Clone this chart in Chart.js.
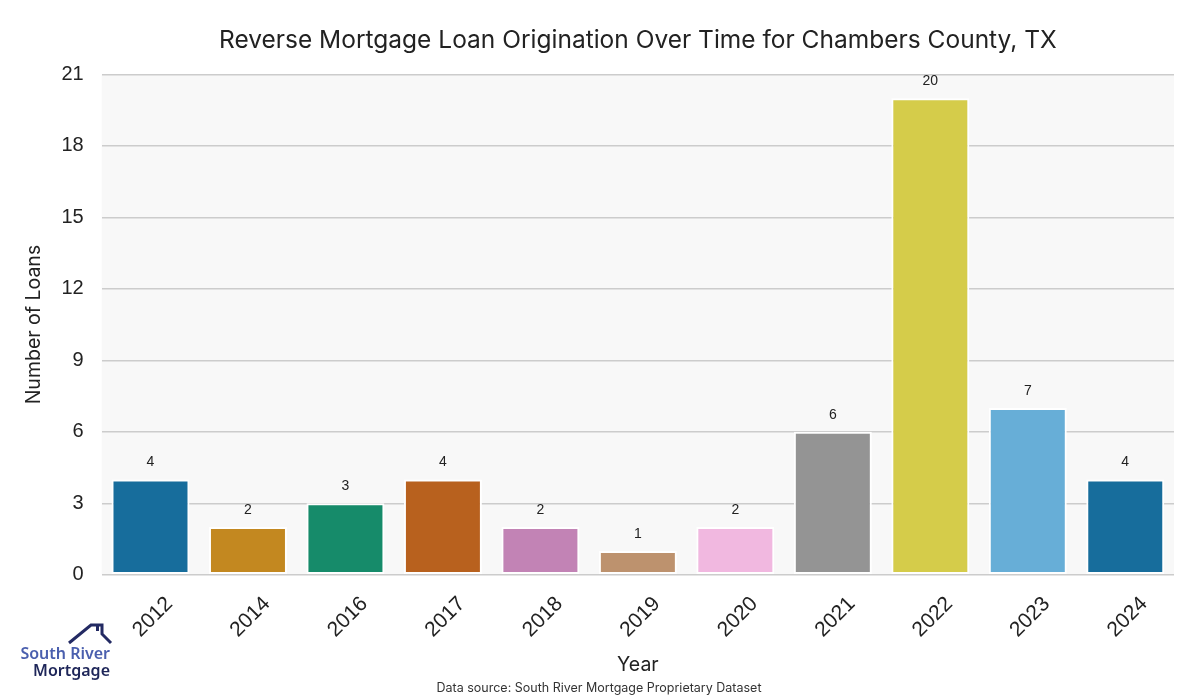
<!DOCTYPE html>
<html>
<head>
<meta charset="utf-8">
<script src="https://cdn.jsdelivr.net/npm/chart.js@4.4.1/dist/chart.umd.min.js"></script>
<style>
  html, body { margin: 0; padding: 0; background: #fff; }
  #wrap { width: 1200px; height: 700px; }
</style>
</head>
<body>
<div id="wrap"><canvas id="loanChart"></canvas></div>
<script>
// data
const years = ['2012', '2014', '2016', '2017', '2018', '2019', '2020', '2021', '2022', '2023', '2024'];
const loans = [4, 2, 3, 4, 2, 1, 2, 6, 20, 7, 4];
const barColors = ['#176d9c', '#c38820', '#168b6a', '#b8611e', '#c283b5', '#bd926e', '#f1b8e0', '#949494', '#d5cc4a', '#67aed7', '#176d9c'];
const yTicks = [0, 3, 6, 9, 12, 15, 18, 21];

const plotBg = {
    id: 'plotBg',
    beforeDraw(chart) {
        const a = chart.chartArea;
        const ctx = chart.ctx;
        ctx.save();
        ctx.fillStyle = '#f8f8f8';
        ctx.fillRect(a.left, a.top, a.right - a.left, a.bottom - a.top);
        ctx.restore();
    }
};

// numbers on top of the bars
const barLabels = {
    id: 'barLabels',
    afterDatasetsDraw(chart) {
        const ctx = chart.ctx;
        const meta = chart.getDatasetMeta(0);
        ctx.save();
        ctx.font = '14px "Liberation Sans", Arial, sans-serif';
        ctx.fillStyle = '#222';
        ctx.textAlign = 'center';
        ctx.textBaseline = 'bottom';
        meta.data.forEach((bar, i) => {
            ctx.fillText(loans[i], bar.x, bar.y - 10);
        });
        ctx.restore();
    }
};

// small logo in the bottom left corner
const logo = {
    id: 'logo',
    afterDraw(chart) {
        const ctx = chart.ctx;
        ctx.save();
        ctx.strokeStyle = '#232a63';
        ctx.lineWidth = 3;
        ctx.beginPath();
        ctx.moveTo(69, 643);
        ctx.lineTo(91, 625);
        ctx.lineTo(102, 625);
        ctx.lineTo(102, 634);
        ctx.lineTo(111, 643);
        ctx.moveTo(97.5, 625);
        ctx.lineTo(97.5, 631);
        ctx.stroke();
        ctx.font = '600 16px "Noto Sans", sans-serif';
        ctx.textAlign = 'right';
        ctx.textBaseline = 'alphabetic';
        ctx.fillStyle = '#4a5fae';
        ctx.fillText('South River', 110, 659);
        ctx.fillStyle = '#1e2659';
        ctx.fillText('Mortgage', 110, 676);
        ctx.restore();
    }
};

const ctx = document.getElementById('loanChart');
new Chart(ctx, {
    type: 'bar',
    data: {
        labels: years,
        datasets: [{
            data: loans,
            backgroundColor: barColors,
            borderColor: '#ffffff',
            borderWidth: 2,
            borderSkipped: false,
            barPercentage: 0.8,
            categoryPercentage: 1.0
        }]
    },
    options: {
        responsive: true,
        maintainAspectRatio: false,
        animation: false,
        layout: { padding: { left: 24, right: 26, top: 20, bottom: 4 } },
        plugins: {
            legend: { display: false },
            tooltip: { enabled: false },
            title: {
                display: true,
                text: 'Reverse Mortgage Loan Origination Over Time for Chambers County, TX',
                fullSize: false,
                color: '#222',
                font: { family: 'Inter, sans-serif', size: 24.5, weight: 'normal' },
                padding: { top: 6, bottom: 19 }
            },
            subtitle: {
                display: true,
                position: 'bottom',
                text: 'Data source: South River Mortgage Proprietary Dataset',
                color: '#333',
                font: { family: 'Inter, sans-serif', size: 12.5 },
                padding: { top: 4, bottom: 0 }
            }
        },
        scales: {
            x: {
                grid: { display: false },
                border: { display: false },
                ticks: {
                    color: '#222',
                    font: { family: '"Liberation Sans", Arial, sans-serif', size: 21 },
                    minRotation: 45,
                    maxRotation: 45,
                    labelOffset: 19,
                    padding: 9
                },
                title: {
                    display: true,
                    text: 'Year',
                    color: '#222',
                    font: { family: 'Inter, sans-serif', size: 19.5 },
                    padding: { top: 2, bottom: 0 }
                }
            },
            y: {
                min: 0,
                max: 21,
                afterBuildTicks(axis) {
                    axis.ticks = yTicks.map(v => ({ value: v }));
                },
                grid: { color: '#cccccc', lineWidth: 1.5, drawTicks: false },
                border: { display: false },
                ticks: {
                    color: '#222',
                    font: { family: '"Liberation Sans", Arial, sans-serif', size: 20 },
                    padding: 18
                },
                title: {
                    display: true,
                    text: 'Number of Loans',
                    color: '#222',
                    font: { family: 'Inter, sans-serif', size: 19.5, lineHeight: 1 },
                    padding: { top: 0, bottom: 0 }
                }
            }
        }
    },
    plugins: [plotBg, barLabels, logo]
});
</script>
</body>
</html>
